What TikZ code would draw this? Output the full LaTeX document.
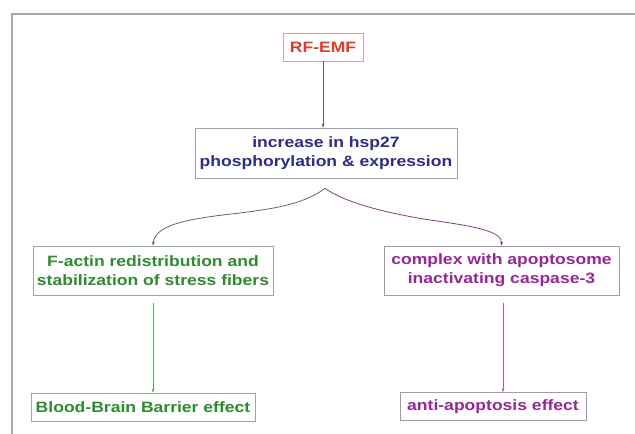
\documentclass[tikz,border=0pt]{standalone}
\usepackage{fontspec}
\setmainfont[FakeStretch=1.17]{Liberation Sans}
\usetikzlibrary{arrows.meta,calc}
\definecolor{rfred}{HTML}{DC3C28}
\definecolor{rfborder}{HTML}{C8A8A0}
\definecolor{navy}{HTML}{2E2E88}
\definecolor{navyborder}{HTML}{A0A0B4}
\definecolor{leafgreen}{HTML}{2E8B2E}
\definecolor{greenborder}{HTML}{90B090}
\definecolor{plum}{HTML}{962896}
\definecolor{plumborder}{HTML}{B090B0}
\definecolor{framegray}{HTML}{A8A8A8}
\definecolor{darkline}{HTML}{606060}
\definecolor{greencurve}{HTML}{507850}
\definecolor{plumcurve}{HTML}{804080}
\definecolor{greenline}{HTML}{60A060}
\definecolor{plumline}{HTML}{A060A0}
\begin{document}
\begin{tikzpicture}[x=1pt,y=-1pt,
  box/.style={draw, line width=0.8pt, inner sep=0pt, align=center,
    font=\fontsize{15}{19}\selectfont\bfseries},
  conn/.style={line width=0.8pt, -{Stealth[length=4pt,width=3pt]}}]
\useasboundingbox (0,0) rectangle (635,434);
\fill[white] (0,0) rectangle (635,434);
% frame
\draw[framegray, line width=1.6pt] (12,434) -- (12,14) -- (635,14);
% nodes
\node[box, draw=rfborder, text=rfred, minimum width=80pt, minimum height=28pt] (rf) at (323,47) {RF-EMF};
\node[box, draw=navyborder, text=navy, minimum width=262pt, minimum height=50pt] (hsp) at (326,153) {increase in hsp27\\phosphorylation \& expression};
\node[box, draw=greenborder, text=leafgreen, minimum width=240pt, minimum height=49pt] (fl) at (153,270.5) {F-actin redistribution and\\stabilization of stress fibers};
\node[box, draw=plumborder, text=plum, minimum width=235pt, minimum height=49pt] (cr) at (501.5,270.5) {complex with apoptosome\\inactivating caspase-3};
\node[box, draw=greenborder, text=leafgreen, minimum width=224pt, minimum height=28pt] (bl) at (143,407) {Blood-Brain Barrier effect};
\node[box, draw=plumborder, text=plum, minimum width=186pt, minimum height=28pt] (ar) at (493,406.5) {anti-apoptosis effect};
% helper coordinates
\coordinate (pk) at ($(hsp.south)+(-1,10)$);
\coordinate (flout) at ($(fl.south)+(0,8)$);
\coordinate (crout) at ($(cr.south)+(1.5,8)$);
% connectors
\draw[conn, darkline] (rf.south) -- (rf.south |- hsp.north);
\draw[conn, greencurve] (pk) .. controls (305,203) and (280,208) .. (240,213)
   .. controls (185,219) and (155,225) .. (fl.north);
\draw[conn, plumcurve] (pk) .. controls (345,202) and (380,212) .. (430,220)
   .. controls (480,227) and (502,232) .. (cr.north);
\draw[conn, greenline] (flout) -- (flout |- bl.north);
\draw[conn, plumline] (crout) -- (crout |- ar.north);
\end{tikzpicture}
\end{document}
